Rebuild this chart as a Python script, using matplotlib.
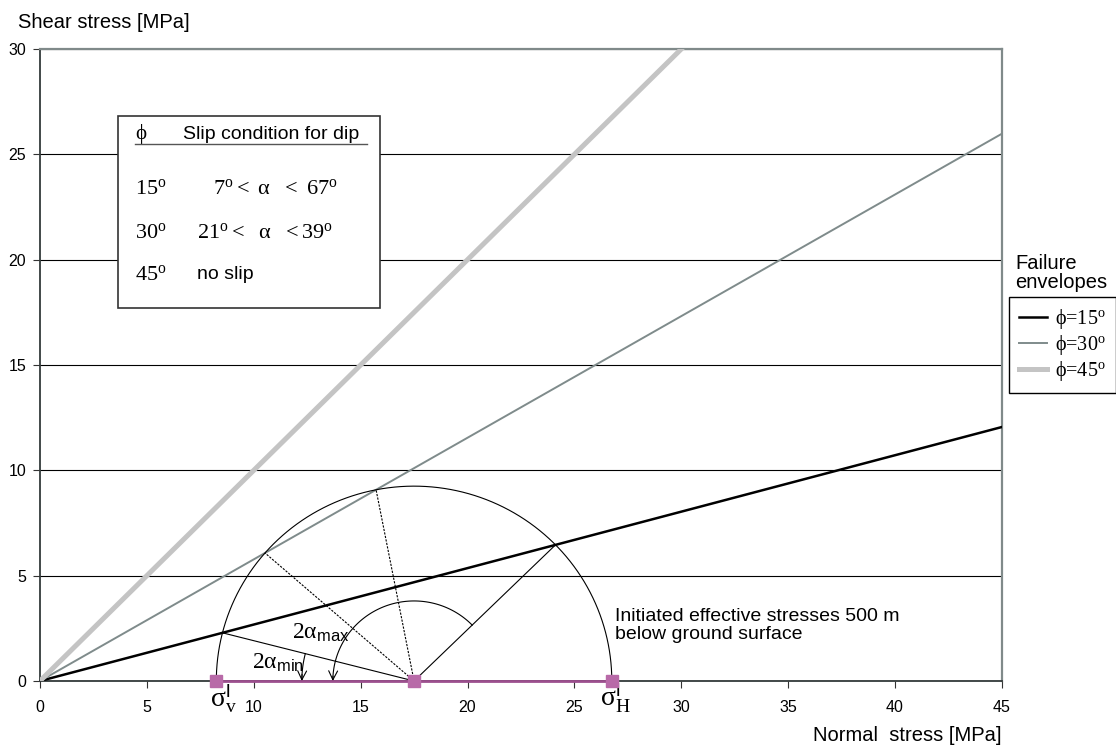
import numpy as np
import matplotlib.pyplot as plt
from matplotlib.patches import Rectangle

plt.rcParams['font.family'] = ['Liberation Sans', 'DejaVu Sans']
plt.rcParams['mathtext.fontset'] = 'custom'
plt.rcParams['mathtext.rm'] = 'Liberation Serif'
plt.rcParams['mathtext.it'] = 'Liberation Serif'
plt.rcParams['mathtext.sf'] = 'Liberation Sans'
plt.rcParams['mathtext.fallback'] = 'stix'

# failure envelopes (friction angles, degrees)
phi = [15, 30, 45]
env_colors = ['#000000', '#7f8b8b', '#c4c4c4']
env_widths = [1.8, 1.4, 3.6]
env_labels = ['ϕ=15$^{\\mathrm{o}}$', 'ϕ=30$^{\\mathrm{o}}$', 'ϕ=45$^{\\mathrm{o}}$']

# effective stresses 500 m below ground [MPa]
sig_v = 8.25
sig_h = 26.75

# slip table
tab_phi = [r'$\mathrm{15^{o}}$', r'$\mathrm{30^{o}}$', r'$\mathrm{45^{o}}$']
tab_cond = [r'$\mathrm{7^{o} <}\ \mathrm{\alpha}\ \ \mathrm{<}\ \mathrm{67^{o}}$',
            r'$\mathrm{21^{o} <}\ \ \mathrm{\alpha}\ \ \mathrm{< 39^{o}}$',
            'no slip']

xticks = [0, 5, 10, 15, 20, 25, 30, 35, 40, 45]
yticks = [0, 5, 10, 15, 20, 25, 30]

fig = plt.figure(figsize=(11.16, 7.45), dpi=100)
ax = fig.add_axes([0.0358, 0.0859, 0.862, 0.8483])
ax.set_xlim(0, 45)
ax.set_ylim(0, 30)

sn = np.array([0, 45.0])
for p, c, w, lab in zip(phi, env_colors, env_widths, env_labels):
    ax.plot(sn, np.tan(np.radians(p)) * sn, color=c, lw=w, label=lab, zorder=3)

# mohr circle
c0 = (sig_v + sig_h) / 2
r = (sig_h - sig_v) / 2
t = np.linspace(0, np.pi, 400)
ax.plot(c0 + r * np.cos(t), r * np.sin(t), color='black', lw=0.8, zorder=3)


def hits(p):
    k = np.tan(np.radians(p))
    a = 1 + k * k
    b = -2 * c0
    cc = c0 * c0 - r * r
    d = np.sqrt(b * b - 4 * a * cc)
    xs = np.array([(-b - d) / (2 * a), (-b + d) / (2 * a)])
    return xs, k * xs


x15, y15 = hits(15)
x30, y30 = hits(30)
for x, y in zip(x15, y15):
    ax.plot([c0, x], [0, y], color='black', lw=0.8, zorder=3)
for x, y in zip(x30, y30):
    ax.plot([c0, x], [0, y], color='black', lw=0.8, ls=(0, (2, 1.2)), zorder=3)

# angle arcs
th_max = np.arctan2(y15[1], x15[1] - c0)
th_min = np.arctan2(y15[0], x15[0] - c0)
for th0, rr in [(th_max, 3.8), (th_min, 5.25)]:
    tt = np.linspace(th0, np.pi, 100)
    ax.plot(c0 + rr * np.cos(tt), rr * np.sin(tt), color='black', lw=0.8, zorder=3)
    ax.annotate('', xy=(c0 - rr, 0), xytext=(c0 + rr * np.cos(np.pi - 0.06), rr * np.sin(np.pi - 0.06)),
                arrowprops=dict(arrowstyle='->', lw=0.8, color='black', mutation_scale=16,
                                shrinkA=0, shrinkB=0), zorder=3)

ax.text(11.8, 2.3, r'$\mathrm{2\alpha}_{\mathsf{max}}$', fontsize=17, va='center', ha='left', zorder=6)
ax.text(9.9, 0.85, r'$\mathrm{2\alpha}_{\mathsf{min}}$', fontsize=17, va='center', ha='left', zorder=6)

# stress points
ax.plot([sig_v, c0, sig_h], [0, 0, 0], color='#9c4f8e', lw=2, marker='s', ms=8,
        mfc='#b86aa8', mec='#b86aa8', clip_on=False, zorder=5)
ax.text(sig_v + 0.35, -0.8, r'$\mathrm{\sigma}^{\mathsf{l}}_{\mathrm{v}}$', fontsize=20, ha='center', va='center')
ax.text(sig_h + 0.15, -0.8, r'$\mathrm{\sigma}^{\mathsf{l}}_{\mathrm{H}}$', fontsize=20, ha='center', va='center')

ax.text(26.9, 2.65, 'Initiated effective stresses 500 m\nbelow ground surface', fontsize=14,
        ha='left', va='center', linespacing=1.1, zorder=6)

# table box
ax.add_patch(Rectangle((3.65, 17.7), 12.25, 9.1, facecolor='white', edgecolor='#333333', lw=1.2, zorder=4))
ax.text(4.44, 25.95, 'ϕ', fontsize=15, va='center', family='Liberation Serif', zorder=5)
ax.text(6.69, 25.95, 'Slip condition for dip', fontsize=14, va='center', zorder=5)
ax.plot([4.44, 15.3], [25.5, 25.5], color='#555555', lw=1, zorder=5)
for i, yy in enumerate([23.4, 21.3, 19.3]):
    ax.text(4.44, yy, tab_phi[i], fontsize=16, va='center', zorder=5)
    xx = 8.09 if i == 0 else 7.34
    ax.text(xx, yy, tab_cond[i], fontsize=16 if i < 2 else 14, va='center', zorder=5)

# axes styling
ax.set_xticks(xticks)
ax.set_yticks(yticks)
ax.tick_params(axis='x', direction='out', length=5, pad=9, labelsize=11.5, color='#333333')
ax.tick_params(axis='y', direction='out', length=5, pad=5, labelsize=11.5, color='#333333')
ax.yaxis.grid(True, color='black', lw=0.8)
ax.set_axisbelow(True)
for s in ['top', 'right']:
    ax.spines[s].set_color('#808a8a')
    ax.spines[s].set_linewidth(1.6)
for s in ['left', 'bottom']:
    ax.spines[s].set_color('#333a3a')
    ax.spines[s].set_linewidth(1.3)

fig.text(0.016, 0.970, 'Shear stress [MPa]', fontsize=14.5, va='center', ha='left')
fig.text(0.8978, 0.0134, 'Normal  stress [MPa]', fontsize=14.5, va='center', ha='right')

leg = ax.legend(loc='upper left', bbox_to_anchor=(1009 / 1116, 1 - 297 / 745), bbox_transform=fig.transFigure,
                prop={'family': 'Liberation Serif', 'size': 14.5}, fancybox=False, framealpha=1,
                edgecolor='black', borderaxespad=0, handlelength=1.4, handletextpad=0.4,
                labelspacing=0.1, borderpad=0.5)
leg.get_frame().set_linewidth(1.0)
fig.text(1015 / 1116, 1 - 292 / 745, 'Failure\nenvelopes', fontsize=14.5, ha='left', va='bottom', linespacing=1.0)

fig.savefig('out.png', dpi=100)
